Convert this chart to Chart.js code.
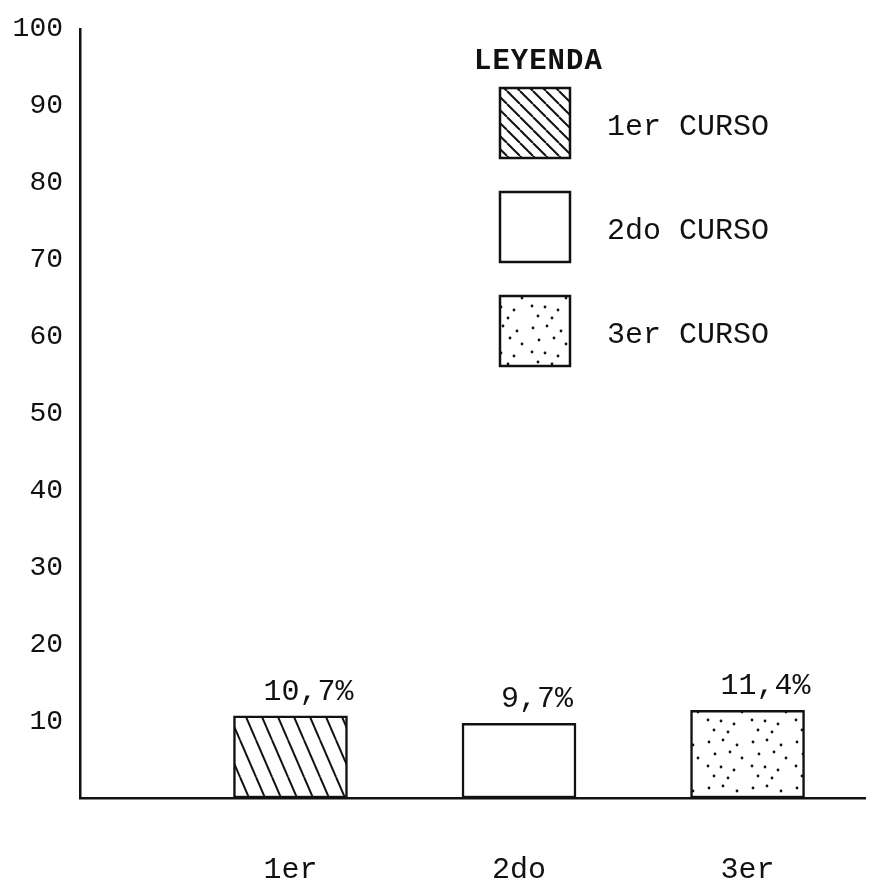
<!DOCTYPE html>
<html>
<head>
<meta charset="utf-8">
<script src="https://cdn.jsdelivr.net/npm/chart.js@4.4.0/dist/chart.umd.min.js"></script>
<style>
  body { margin: 0; background: #fff; }
</style>
</head>
<body>
<canvas id="cursoChart" width="880" height="881"></canvas>
<script>
// datos
var cursos = ['1er', '2do', '3er'];
var porcentajes = [10.7, 9.7, 11.4];
var leyenda = ['1er CURSO', '2do CURSO', '3er CURSO'];
var yTicks = [10, 20, 30, 40, 50, 60, 70, 80, 90, 100];

var FONT = "'Liberation Mono', 'DejaVu Sans Mono', monospace";
var INK = '#111';

// tramas de relleno
function trama(w, h, draw) {
    var c = document.createElement('canvas');
    c.width = w; c.height = h;
    var g = c.getContext('2d');
    g.fillStyle = '#fff';
    g.fillRect(0, 0, w, h);
    g.strokeStyle = INK;
    g.fillStyle = INK;
    draw(g, w, h);
    return document.getElementById('cursoChart').getContext('2d').createPattern(c, 'repeat');
}
function rayas(w, h) {
    return trama(w, h, function (g) {
        g.lineWidth = 2;
        [-w, 0, w].forEach(function (o) {
            g.beginPath();
            g.moveTo(o, 0);
            g.lineTo(o + w, h);
            g.stroke();
        });
    });
}
var puntosTile = [[5, 6], [19, 4], [33, 9], [11, 18], [26, 16], [38, 22], [4, 30], [17, 31], [30, 34], [10, 40], [24, 42]];
function puntos() {
    return trama(44, 46, function (g) {
        puntosTile.forEach(function (p) {
            g.beginPath();
            g.arc(p[0], p[1], 1.4, 0, Math.PI * 2);
            g.fill();
        });
    });
}

var rellenoBarras = [rayas(16, 37), '#fff', puntos()];
var rellenoLeyenda = [rayas(13, 13), '#fff', puntos()];

const etiquetasPlugin = {
    id: 'etiquetas',
    afterDatasetsDraw(chart) {
        const ctx = chart.ctx;
        const meta = chart.getDatasetMeta(0);
        ctx.save();
        ctx.fillStyle = INK;
        ctx.font = '30px ' + FONT;
        ctx.textAlign = 'center';
        ctx.textBaseline = 'middle';
        meta.data.forEach(function (bar, i) {
            var txt = String(porcentajes[i]).replace('.', ',') + '%';
            ctx.fillText(txt, bar.x + 18, bar.y - 24);
        });
        ctx.restore();
    }
};

const leyendaPlugin = {
    id: 'leyenda',
    afterDraw(chart) {
        const ctx = chart.ctx;
        ctx.save();
        ctx.fillStyle = INK;
        ctx.font = 'bold 29px ' + FONT;
        ctx.textAlign = 'left';
        ctx.textBaseline = 'middle';
        ctx.letterSpacing = '1px';
        ctx.fillText('LEYENDA', 474, 62);
        ctx.letterSpacing = '0px';
        ctx.font = '30px ' + FONT;
        leyenda.forEach(function (txt, i) {
            var y = 88 + i * 104;
            ctx.fillStyle = rellenoLeyenda[i];
            ctx.fillRect(500, y, 70, 70);
            ctx.strokeStyle = INK;
            ctx.lineWidth = 2.5;
            ctx.strokeRect(500, y, 70, 70);
            ctx.fillStyle = INK;
            ctx.fillText(txt, 607, y + 39);
        });
        ctx.restore();
    }
};

var ctx = document.getElementById('cursoChart').getContext('2d');
var cursoChart = new Chart(ctx, {
    type: 'bar',
    data: {
        datasets: [{
            data: porcentajes.map(function (v, i) { return { x: i + 1, y: v }; }),
            backgroundColor: rellenoBarras,
            borderColor: INK,
            borderWidth: 2.5,
            borderSkipped: false,
            barThickness: 114
        }]
    },
    options: {
        responsive: false,
        animation: false,
        layout: { padding: { top: 29, right: 15, left: 0, bottom: 0 } },
        plugins: {
            legend: { display: false },
            tooltip: { enabled: false }
        },
        scales: {
            x: {
                type: 'linear',
                offset: false,
                min: 0.079,
                max: 3.514,
                grid: { display: false, drawTicks: false, offset: false },
                border: { display: true, color: INK, width: 2.5 },
                afterBuildTicks: function (scale) {
                    scale.ticks = cursos.map(function (c, i) { return { value: i + 1 }; });
                },
                afterFit: function (scale) {
                    scale.height = 83;
                    scale.paddingLeft = 0;
                    scale.paddingRight = 0;
                },
                ticks: {
                    color: INK,
                    font: { family: FONT, size: 30 },
                    padding: 54,
                    maxRotation: 0,
                    callback: function (v) { return cursos[v - 1]; }
                }
            },
            y: {
                min: 0,
                max: 100,
                grid: { display: false, drawTicks: false },
                border: { display: true, color: INK, width: 2.5 },
                afterBuildTicks: function (scale) {
                    scale.ticks = yTicks.map(function (v) { return { value: v }; });
                },
                afterFit: function (scale) {
                    scale.width = 80;
                    scale.paddingTop = 0;
                    scale.paddingBottom = 0;
                },
                ticks: {
                    color: INK,
                    font: { family: FONT, size: 28 },
                    padding: 17
                }
            }
        }
    },
    plugins: [etiquetasPlugin, leyendaPlugin]
});
</script>
</body>
</html>
